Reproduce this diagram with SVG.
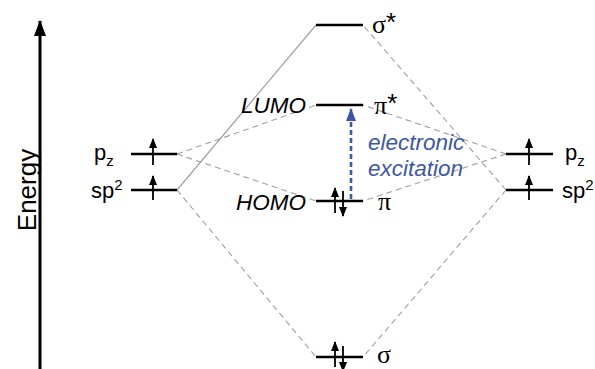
<svg xmlns="http://www.w3.org/2000/svg" width="595" height="369" viewBox="0 0 595 369">
<style>
.lvl{stroke:#000;stroke-width:2.5;fill:none}
.spin{stroke:#000;stroke-width:1.8;fill:none}
.dash{stroke:#a0a0a0;stroke-width:1.1;stroke-dasharray:6,4;fill:none}
.solid{stroke:#a0a0a0;stroke-width:1.2;fill:none}
.lab{font-family:"Liberation Sans",Arial,sans-serif;font-size:22px;fill:#000}
.gr{font-family:"Liberation Serif","Times New Roman",serif;font-size:26px;fill:#000}
.ast{font-family:"Liberation Sans",Arial,sans-serif;font-size:26px;fill:#000}
.it{font-family:"Liberation Sans",Arial,sans-serif;font-size:22.5px;font-style:italic;fill:#000}
.blue{font-family:"Liberation Sans",Arial,sans-serif;font-size:22.5px;font-style:italic;fill:#3d56a8}
</style>
<defs>
<marker id="up" viewBox="0 0 10 8" refX="9" refY="4" markerWidth="10" markerHeight="8" markerUnits="userSpaceOnUse" orient="auto">
<path d="M0,0 L10,4 L0,8 Z" fill="#000"/>
</marker>
<marker id="ax" viewBox="0 0 16 12" refX="15" refY="6" markerWidth="16" markerHeight="12" markerUnits="userSpaceOnUse" orient="auto">
<path d="M0,0 L16,6 L0,12 Z" fill="#000"/>
</marker>
<marker id="bl" viewBox="0 0 13 10" refX="12" refY="5" markerWidth="13" markerHeight="10" markerUnits="userSpaceOnUse" orient="auto">
<path d="M0,0 L13,5 L0,10 Z" fill="#3d56a8"/>
</marker>
</defs>
<g id="axis">
<line x1="40" y1="369" x2="40" y2="21" stroke="#000" stroke-width="3" marker-end="url(#ax)"/>
<text class="lab" style="font-size:26px" transform="translate(36,190) rotate(-90)" text-anchor="middle">Energy</text>
</g>
<g id="connectors">
<line class="solid" x1="177" y1="190" x2="316" y2="25"/>
<line class="dash" x1="177" y1="154" x2="316" y2="105"/>
<line class="dash" x1="177" y1="154" x2="316" y2="201"/>
<line class="dash" x1="177" y1="190" x2="316" y2="357"/>
<line class="dash" x1="506" y1="154" x2="363" y2="105"/>
<line class="dash" x1="506" y1="154" x2="363" y2="201"/>
<line class="dash" x1="506" y1="190" x2="363" y2="25"/>
<line class="dash" x1="506" y1="190" x2="363" y2="357"/>
</g>
<g id="left-pz">
<line class="lvl" x1="131" y1="154" x2="177" y2="154"/>
<line class="spin" x1="153" y1="165" x2="153" y2="139" marker-end="url(#up)"/>
<text class="lab" x="94" y="160">p<tspan font-size="15" dy="6">z</tspan></text>
</g>
<g id="left-sp2">
<line class="lvl" x1="131" y1="190" x2="177" y2="190"/>
<line class="spin" x1="153" y1="200" x2="153" y2="176" marker-end="url(#up)"/>
<text class="lab" x="91" y="198">sp<tspan font-size="15" dy="-8">2</tspan></text>
</g>
<g id="sigma-star">
<line class="lvl" x1="316" y1="25" x2="363" y2="25"/>
<text class="gr" x="372" y="33">σ<tspan class="ast" dy="-2">*</tspan></text>
</g>
<g id="pi-star">
<line class="lvl" x1="316" y1="105" x2="363" y2="105"/>
<text class="it" x="306" y="113" text-anchor="end">LUMO</text>
<text class="gr" x="374" y="114">π<tspan class="ast" dy="-2">*</tspan></text>
</g>
<g id="pi">
<line class="lvl" x1="316" y1="201" x2="363" y2="201"/>
<line class="spin" x1="335" y1="213" x2="335" y2="188" marker-end="url(#up)"/>
<line class="spin" x1="343" y1="191" x2="343" y2="216" marker-end="url(#up)"/>
<text class="it" x="306" y="210" text-anchor="end">HOMO</text>
<text class="gr" x="378" y="210">π</text>
</g>
<g id="sigma">
<line class="lvl" x1="316" y1="357" x2="363" y2="357"/>
<line class="spin" x1="335" y1="367" x2="335" y2="342" marker-end="url(#up)"/>
<line class="spin" x1="343" y1="346" x2="343" y2="371" marker-end="url(#up)"/>
<text class="gr" x="377" y="363">σ</text>
</g>
<g id="right-pz">
<line class="lvl" x1="506" y1="154" x2="553" y2="154"/>
<line class="spin" x1="529" y1="165" x2="529" y2="139" marker-end="url(#up)"/>
<text class="lab" x="565" y="160">p<tspan font-size="15" dy="6">z</tspan></text>
</g>
<g id="right-sp2">
<line class="lvl" x1="506" y1="190" x2="553" y2="190"/>
<line class="spin" x1="529" y1="200" x2="529" y2="176" marker-end="url(#up)"/>
<text class="lab" x="562" y="198">sp<tspan font-size="15" dy="-8">2</tspan></text>
</g>
<g id="excitation">
<line x1="351" y1="199" x2="351" y2="109" stroke="#3d56a8" stroke-width="2.6" stroke-dasharray="5,3" marker-end="url(#bl)"/>
<text class="blue" x="368" y="150">electronic</text>
<text class="blue" x="368" y="176">excitation</text>
</g>
</svg>
